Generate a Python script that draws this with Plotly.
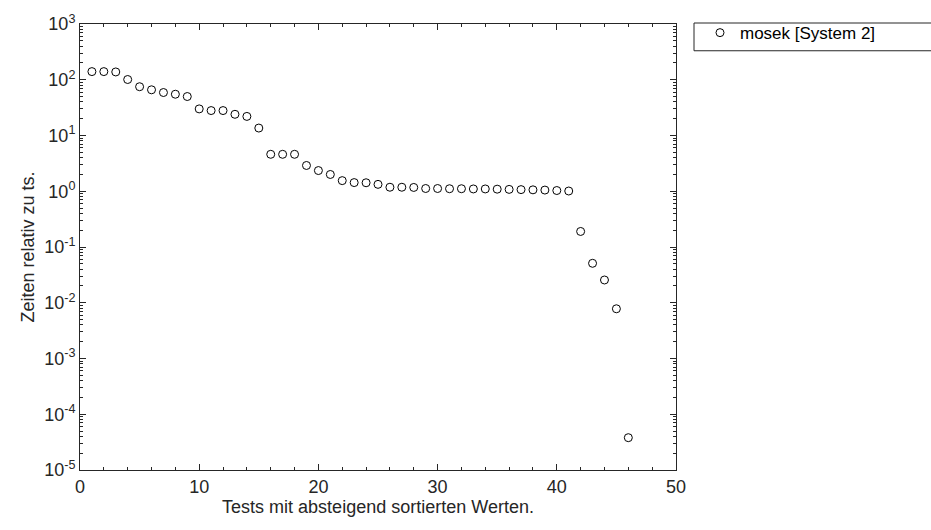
import plotly.graph_objects as go

test_index = list(range(1, 47))
rel_time = [140, 140, 138, 101, 75, 66, 59, 55, 50,
            30, 28, 28, 24, 22, 13.6,
            4.6, 4.6, 4.6, 2.9, 2.35, 2.0, 1.55, 1.43, 1.42, 1.33,
            1.18, 1.18, 1.17, 1.12, 1.12, 1.11, 1.11, 1.10, 1.10, 1.09,
            1.08, 1.07, 1.06, 1.05, 1.03, 1.01,
            0.19, 0.051, 0.0256, 0.0078, 3.8e-5]
series_name = "mosek [System 2]"
x_title = "Tests mit absteigend sortierten Werten."
y_title = "Zeiten relativ zu ts."
y_exponents = list(range(-5, 4))
x_ticks = [0, 10, 20, 30, 40, 50]

FONT = "Liberation Sans, Arial, Helvetica, sans-serif"
INK = "#262626"

y_minor = [k * 10 ** e for e in y_exponents[:-1] for k in range(2, 10)]

fig = go.Figure()
fig.add_trace(go.Scatter(
    x=test_index, y=rel_time, mode="markers", name=series_name,
    marker=dict(symbol="circle-open", size=8, color="black",
                line=dict(width=1, color="black")),
))

L, R, T, B = 80, 255, 20, 60
W, H = 931, 530
pw = W - L - R
ph = H - T - B

def px_x(p):
    return (p - L) / pw

def px_y(p):
    return (H - B - p) / ph

fig.update_layout(
    width=W, height=H,
    margin=dict(l=L, r=R, t=T, b=B),
    paper_bgcolor="white", plot_bgcolor="white",
    font=dict(family=FONT, color=INK, size=18),
    showlegend=True,
    legend=dict(x=px_x(700), y=px_y(11), xanchor="left", yanchor="top",
                bgcolor="rgba(0,0,0,0)", borderwidth=0,
                font=dict(size=17, color="black"),
                itemwidth=30, tracegroupgap=0),
    xaxis=dict(
        range=[0, 50], tickmode="array", tickvals=x_ticks,
        ticktext=[str(v) for v in x_ticks],
        ticks="inside", ticklen=6, tickcolor=INK, tickwidth=1,
        showline=True, linecolor=INK, linewidth=1, mirror="allticks",
        showgrid=False, zeroline=False,
        minor=dict(ticks="inside", ticklen=3, dtick=2, tickcolor=INK, showgrid=False),
        title=dict(text=x_title, font=dict(size=18), standoff=2),
        tickfont=dict(size=18),
    ),
    yaxis=dict(
        type="log", range=[-5, 3], tickmode="array",
        tickvals=[10 ** e for e in y_exponents],
        ticktext=["10<sup>%d</sup>" % e for e in y_exponents],
        ticks="inside", ticklen=6, tickcolor=INK, tickwidth=1,
        showline=True, linecolor=INK, linewidth=1, mirror="allticks",
        showgrid=False, zeroline=False,
        minor=dict(ticks="inside", ticklen=3, tickcolor=INK, showgrid=False,
                   tickmode="array", tickvals=y_minor),
        title=dict(text=y_title, font=dict(size=18), standoff=4),
        tickfont=dict(size=18),
    ),
    shapes=[dict(type="rect", xref="paper", yref="paper",
                 x0=px_x(694), x1=px_x(940), y0=px_y(47), y1=px_y(19),
                 line=dict(color=INK, width=1), fillcolor="rgba(0,0,0,0)")],
)

fig.write_html("out.html")
